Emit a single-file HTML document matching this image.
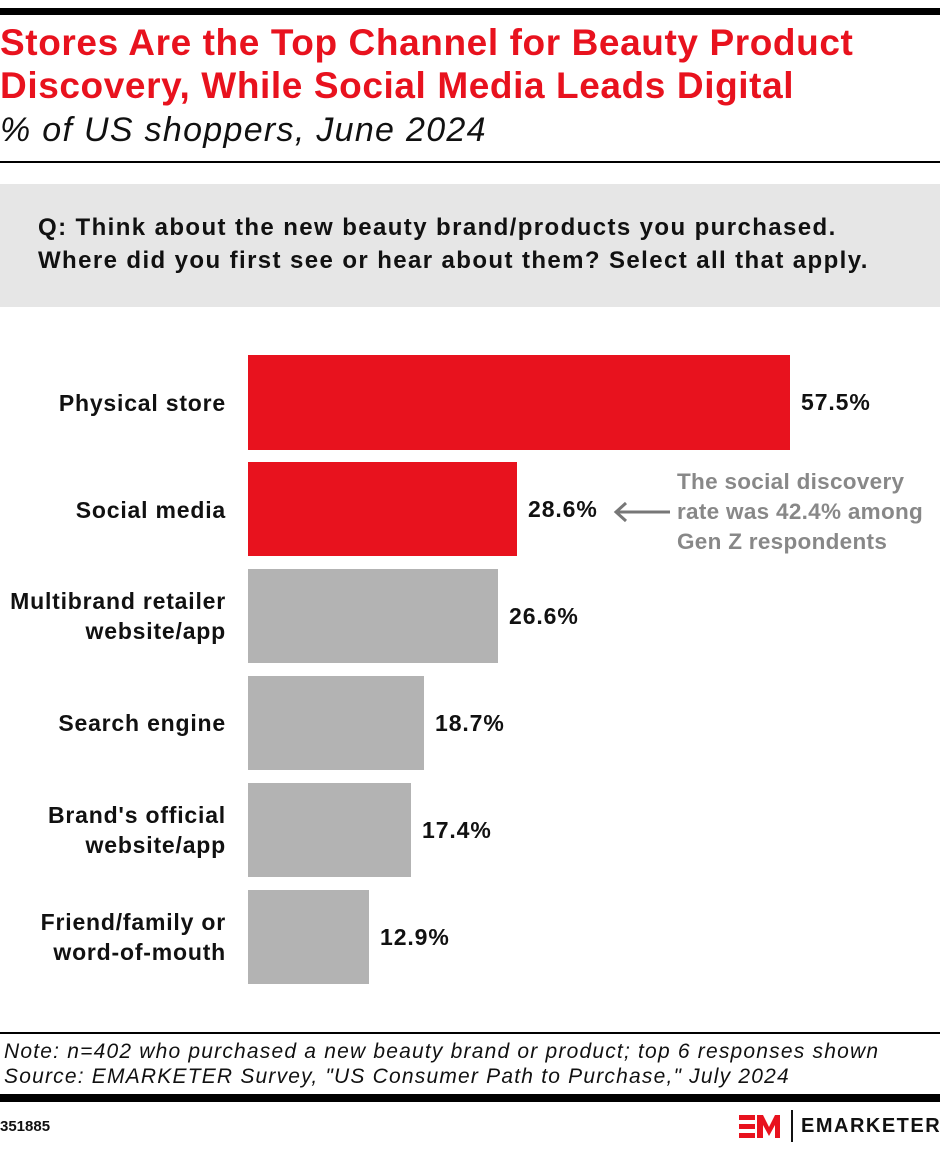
<!DOCTYPE html>
<html><head><meta charset="utf-8"><style>
body{margin:0;width:940px;height:1150px;background:#fff;font-family:"Liberation Sans",sans-serif;position:relative;overflow:hidden}
.a{position:absolute}
.t{color:#e8121e;font-weight:bold;font-size:37px;line-height:43px;left:0;top:21px;letter-spacing:0.6px;white-space:nowrap}
.bar{position:absolute;left:248px}
.lab{position:absolute;right:714px;text-align:right;font-weight:bold;font-size:23px;letter-spacing:0.8px;line-height:30px;color:#111;white-space:nowrap}
.val{position:absolute;font-weight:bold;font-size:23px;letter-spacing:0.9px;color:#111}
</style></head><body>
<div class="a" style="left:0;top:8px;width:940px;height:7px;background:#000"></div>
<div class="a t">Stores Are the Top Channel for Beauty Product<br>Discovery, While Social Media Leads Digital</div>
<div class="a" style="left:0;top:111px;font-size:34px;letter-spacing:1.3px;font-style:italic;color:#111;white-space:nowrap">% of US shoppers, June 2024</div>
<div class="a" style="left:0;top:161px;width:940px;height:2px;background:#000"></div>
<div class="a" style="left:0;top:184px;width:940px;height:123px;background:#e6e6e6"></div>
<div class="a" style="left:38px;top:211px;font-size:24px;letter-spacing:1.4px;font-weight:bold;line-height:33px;color:#111;white-space:nowrap">Q: Think about the new beauty brand/products you purchased.<br>Where did you first see or hear about them? Select all that apply.</div>

<div class="bar" style="top:355px;width:542px;height:95px;background:#e8121e"></div>
<div class="bar" style="top:462px;width:269px;height:94px;background:#e8121e"></div>
<div class="bar" style="top:569px;width:250px;height:94px;background:#b3b3b3"></div>
<div class="bar" style="top:676px;width:176px;height:94px;background:#b3b3b3"></div>
<div class="bar" style="top:783px;width:163px;height:94px;background:#b3b3b3"></div>
<div class="bar" style="top:890px;width:121px;height:94px;background:#b3b3b3"></div>

<div class="lab" style="top:388px">Physical store</div>
<div class="lab" style="top:495px">Social media</div>
<div class="lab" style="top:586px">Multibrand retailer<br>website/app</div>
<div class="lab" style="top:708px">Search engine</div>
<div class="lab" style="top:800px">Brand's official<br>website/app</div>
<div class="lab" style="top:907px">Friend/family or<br>word-of-mouth</div>

<div class="val" style="left:801px;top:389px">57.5%</div>
<div class="val" style="left:528px;top:496px">28.6%</div>
<div class="val" style="left:509px;top:603px">26.6%</div>
<div class="val" style="left:435px;top:710px">18.7%</div>
<div class="val" style="left:422px;top:817px">17.4%</div>
<div class="val" style="left:380px;top:924px">12.9%</div>

<svg class="a" style="left:612px;top:500px" width="60" height="24"><line x1="4" y1="12" x2="58" y2="12" stroke="#777" stroke-width="3"/><polyline points="14,3 4,12 14,21" fill="none" stroke="#777" stroke-width="3"/></svg>
<div class="a" style="left:677px;top:467px;font-size:22.5px;letter-spacing:0.3px;font-weight:bold;line-height:30px;color:#888;white-space:nowrap">The social discovery<br>rate was 42.4% among<br>Gen Z respondents</div>

<div class="a" style="left:0;top:1032px;width:940px;height:2px;background:#000"></div>
<div class="a" style="left:4px;top:1039px;font-size:21px;letter-spacing:1.2px;font-style:italic;line-height:25px;color:#111;white-space:nowrap">Note: n=402 who purchased a new beauty brand or product; top 6 responses shown<br>Source: EMARKETER Survey, "US Consumer Path to Purchase," July 2024</div>
<div class="a" style="left:0;top:1094px;width:940px;height:8px;background:#000"></div>
<div class="a" style="left:0;top:1118px;font-size:15px;font-weight:bold;color:#111">351885</div>
<svg class="a" style="left:738px;top:1112px" width="44" height="28"><path d="M1 3h16v5H1zM1 12h16v5H1zM1 21h16v5H1z" fill="#e8121e"/><path d="M19 26V3h6l6 12 6-12h5v23h-5V13l-6 11-6-11v13z" fill="#e8121e"/></svg>
<div class="a" style="left:791px;top:1110px;width:2px;height:32px;background:#111"></div>
<div class="a" style="left:801px;top:1115px;font-size:20px;font-weight:bold;letter-spacing:1.5px;color:#111">EMARKETER</div>
</body></html>
